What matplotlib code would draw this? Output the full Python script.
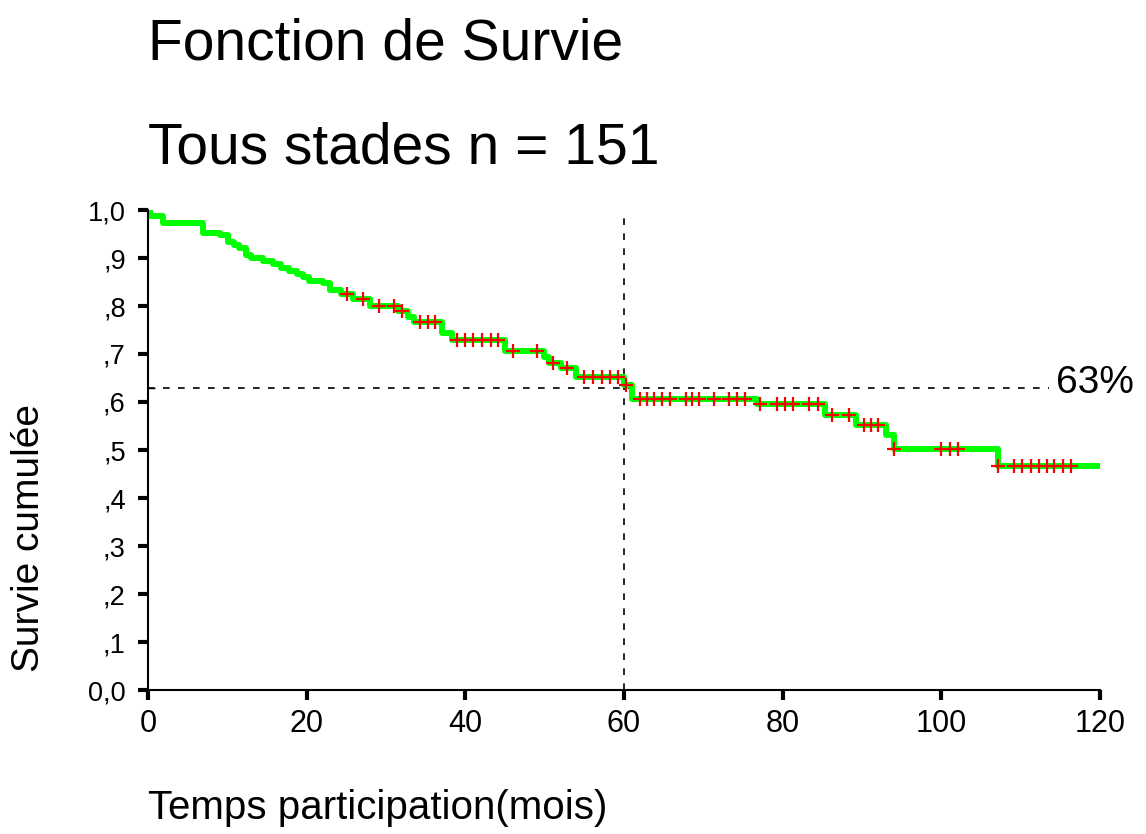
import numpy as np
import matplotlib
matplotlib.use('Agg')
from matplotlib import pyplot as plt

# Kaplan-Meier steps: time of drop (months) and survival after it
event_times = [0.3, 1.9, 6.9, 9.1, 10.1, 10.8, 11.5, 12.3, 13.0, 14.5, 15.8, 16.8, 17.8, 18.8,
               19.6, 20.3, 22.0, 23.0, 24.3, 25.9, 28.0, 31.5, 32.8, 33.5, 37.1, 38.3, 45.0,
               49.9, 50.5, 52.0, 53.9, 60.0, 61.0, 76.8, 85.3, 89.3, 93.0, 94.0, 107.1]
event_surv = [0.987, 0.973, 0.953, 0.947, 0.933, 0.927, 0.920, 0.907, 0.900, 0.893, 0.887,
              0.880, 0.873, 0.867, 0.860, 0.853, 0.847, 0.833, 0.825, 0.814, 0.800, 0.790,
              0.777, 0.767, 0.744, 0.729, 0.707, 0.694, 0.681, 0.670, 0.653, 0.635, 0.607,
              0.596, 0.573, 0.552, 0.531, 0.502, 0.467]
censor_times = [25.1, 27.1, 29.1, 31.0, 32.0, 34.3, 35.3, 36.2, 39.0, 40.0, 41.0, 42.1, 43.2,
                44.1, 46.0, 49.0, 51.1, 52.8, 54.9, 56.1, 57.2, 58.2, 59.2, 60.2, 62.0, 62.9,
                63.8, 64.8, 65.8, 67.8, 68.6, 69.4, 71.3, 73.2, 74.3, 75.2, 77.2, 79.3, 80.3,
                81.3, 83.3, 84.4, 86.2, 88.4, 90.3, 91.1, 92.0, 94.0, 99.9, 101.1, 102.1,
                107.1, 109.2, 110.2, 111.3, 112.3, 113.3, 114.2, 115.3, 116.3]
end_time = 120
ref_time = 60
ref_surv = 0.63
ref_label = '63%'
ytick_labels = ['0,0', ',1', ',2', ',3', ',4', ',5', ',6', ',7', ',8', ',9', '1,0']
xticks = [0, 20, 40, 60, 80, 100, 120]

plt.rcParams['font.family'] = ['Liberation Sans', 'DejaVu Sans']

t = np.concatenate([[0], event_times, [end_time]])
s = np.concatenate([[1.0], event_surv, [event_surv[-1]]])
idx = np.searchsorted(t, censor_times, side='right') - 1
censor_surv = s[idx]

fig = plt.figure(figsize=(11.46, 8.34), dpi=100)
ax = fig.add_axes([148 / 1146, 1 - 690 / 834, 952 / 1146, 480 / 834])

ax.axvline(ref_time, color='black', lw=1.2, ls=(0, (4, 5)), zorder=1)
ax.plot([0, 113.6], [ref_surv, ref_surv], color='black', lw=1.2, ls=(0, (4, 5)), zorder=1, clip_on=False)
ax.step(t, s, where='post', color='#00ff00', lw=4.3, zorder=2)
ax.plot(censor_times, censor_surv, '+', color='#ff0000', ms=10, mew=1.6, zorder=3)

ax.text(114.4, ref_surv + 0.01, ref_label, fontsize=28, va='center', ha='left', clip_on=False)

ax.set_xlim(0, 120)
ax.set_ylim(0, 1)
ax.set_xticks(xticks)
ax.set_yticks(np.linspace(0, 1, 11))
ax.set_yticklabels(ytick_labels)
ax.set_xticks([ref_time], minor=True)
ax.set_yticks([ref_surv], minor=True)
ax.tick_params(which='major', direction='out', length=7, width=3, pad=8)
ax.tick_params(axis='x', which='major', labelsize=22, pad=7)
ax.tick_params(axis='y', which='major', labelsize=19.5, pad=9)
ax.tick_params(which='minor', direction='in', length=5, width=1)
for side in ['top', 'right']:
    ax.spines[side].set_visible(False)
for side in ['left', 'bottom']:
    ax.spines[side].set_linewidth(1.5)

fig.text(148 / 1146, 1 - 60 / 834, 'Fonction de Survie', fontsize=41, va='baseline', ha='left')
fig.text(148 / 1146, 1 - 163 / 834, 'Tous stades n = 151', fontsize=41, va='baseline', ha='left')
fig.text(148 / 1146, 1 - 808 / 834, 'Temps participation(mois)', fontsize=29, va='center', ha='left')
fig.text(29 / 1146, 1 - 538 / 834, 'Survie cumulée', fontsize=28, va='center', ha='center', rotation=90)

fig.savefig('out.png', dpi=100)
plt.close(fig)
